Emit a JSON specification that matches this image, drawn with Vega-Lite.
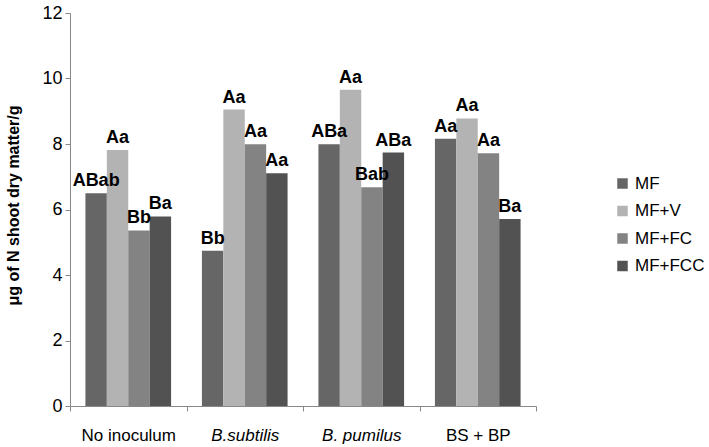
{
  "$schema": "https://vega.github.io/schema/vega-lite/v6.json",
  "autosize": {"type": "none"},
  "width": 466,
  "height": 393,
  "padding": {"left": 70, "top": 13, "right": 173, "bottom": 41},
  "background": "white",
  "config": {
    "font": "Liberation Sans",
    "view": {"stroke": null}
  },
  "data": {
    "values": [
      {"group": "No inoculum", "treatment": "MF", "value": 6.5, "label": "ABab"},
      {"group": "No inoculum", "treatment": "MF+V", "value": 7.82, "label": "Aa"},
      {"group": "No inoculum", "treatment": "MF+FC", "value": 5.36, "label": "Bb"},
      {"group": "No inoculum", "treatment": "MF+FCC", "value": 5.79, "label": "Ba"},
      {"group": "B.subtilis", "treatment": "MF", "value": 4.74, "label": "Bb"},
      {"group": "B.subtilis", "treatment": "MF+V", "value": 9.05, "label": "Aa"},
      {"group": "B.subtilis", "treatment": "MF+FC", "value": 7.99, "label": "Aa"},
      {"group": "B.subtilis", "treatment": "MF+FCC", "value": 7.11, "label": "Aa"},
      {"group": "B. pumilus", "treatment": "MF", "value": 7.99, "label": "ABa"},
      {"group": "B. pumilus", "treatment": "MF+V", "value": 9.66, "label": "Aa"},
      {"group": "B. pumilus", "treatment": "MF+FC", "value": 6.68, "label": "Bab"},
      {"group": "B. pumilus", "treatment": "MF+FCC", "value": 7.74, "label": "ABa"},
      {"group": "BS + BP", "treatment": "MF", "value": 8.16, "label": "Aa"},
      {"group": "BS + BP", "treatment": "MF+V", "value": 8.78, "label": "Aa"},
      {"group": "BS + BP", "treatment": "MF+FC", "value": 7.72, "label": "Aa"},
      {"group": "BS + BP", "treatment": "MF+FCC", "value": 5.71, "label": "Ba"}
    ]
  },
  "encoding": {
    "x": {
      "field": "group",
      "type": "nominal",
      "sort": ["No inoculum", "B.subtilis", "B. pumilus", "BS + BP"],
      "scale": {"paddingInner": 0, "paddingOuter": 0},
      "axis": {
        "title": null,
        "labelAngle": 0,
        "labelFontSize": 17,
        "labelColor": "black",
        "labelPadding": 16,
        "labelFontStyle": {"condition": {"test": "datum.value === 'B.subtilis' || datum.value === 'B. pumilus'", "value": "italic"}, "value": "normal"},
        "tickBand": "extent",
        "tickSize": 5,
        "tickColor": "#888888",
        "domainColor": "#888888",
        "grid": false
      }
    },
    "xOffset": {
      "field": "treatment",
      "type": "nominal",
      "sort": ["MF", "MF+V", "MF+FC", "MF+FCC"],
      "scale": {"paddingInner": 0, "paddingOuter": 0.72}
    },
    "y": {
      "field": "value",
      "type": "quantitative",
      "scale": {"domain": [0, 12]},
      "axis": {
        "title": "μg  of N shoot dry matter/g",
        "titleFontSize": 16,
        "titleFontWeight": "bold",
        "titleColor": "black",
        "titlePadding": 20,
        "titleY": 192,
        "values": [0, 2, 4, 6, 8, 10, 12],
        "labelFontSize": 18,
        "labelColor": "black",
        "labelPadding": 3,
        "tickSize": 5,
        "tickColor": "#888888",
        "domainColor": "#888888",
        "grid": false
      }
    }
  },
  "layer": [
    {
      "mark": {"type": "bar"},
      "encoding": {
        "color": {
          "field": "treatment",
          "type": "nominal",
          "sort": ["MF", "MF+V", "MF+FC", "MF+FCC"],
          "scale": {"domain": ["MF", "MF+V", "MF+FC", "MF+FCC"], "range": ["#666666", "#b3b3b3", "#838383", "#525252"]},
          "legend": {
            "title": null,
            "orient": "none",
            "legendX": 544,
            "legendY": 162,
            "symbolType": "square",
            "symbolSize": 110,
            "symbolStrokeWidth": 0,
            "labelFontSize": 17,
            "labelColor": "black",
            "labelOffset": 4,
            "rowPadding": 9.5
          }
        }
      }
    },
    {
      "mark": {"type": "text", "baseline": "bottom", "dy": -3, "fontSize": 18, "fontWeight": "bold", "color": "black"},
      "encoding": {"text": {"field": "label"}}
    }
  ]
}
